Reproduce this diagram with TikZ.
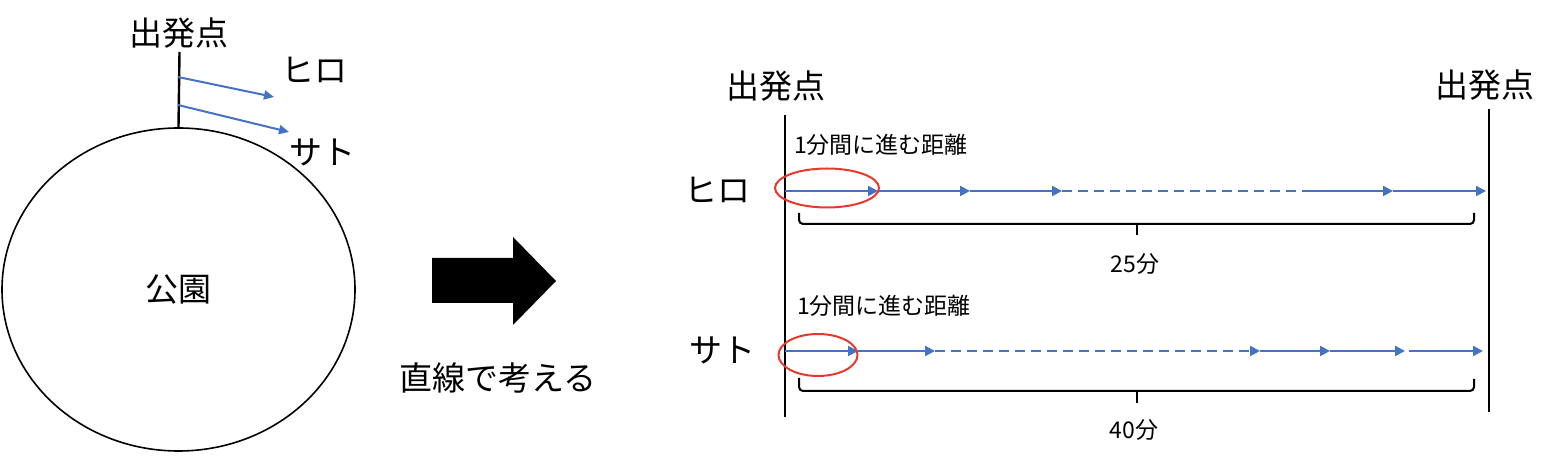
\documentclass[tikz,border=0pt]{standalone}
\usepackage{fontspec}
\setmainfont{Noto Sans CJK JP}
\usetikzlibrary{arrows.meta,shapes.geometric}

\definecolor{ao}{RGB}{68,114,196}
\definecolor{aka}{RGB}{232,56,44}

\begin{document}
\begin{tikzpicture}[x=0.5pt,y=-0.5pt,
        oomoji/.style={font=\fontsize{16.5}{18}\selectfont, inner sep=0pt},
        komoji/.style={font=\fontsize{11.5}{13}\selectfont, inner sep=0pt},
        sen/.style={line width=1.2pt},
        ya/.style={ao, line width=1pt, -{Triangle[length=5pt,width=5pt]}},
        yaten/.style={ao, line width=1pt, dash pattern=on 5pt off 3pt},
        maru/.style={draw=aka, ellipse, line width=1pt, inner sep=0pt},
        kakko/.style={line width=1pt, rounded corners=2pt}]
        \useasboundingbox (0,0) rectangle (1568,458);

        % 公園
        \node[draw, ellipse, line width=0.8pt, minimum width=176.5pt,
              minimum height=161.5pt, oomoji] (koen) at (178.5,289.5) {公園};
        \coordinate (ue) at (179.5,52);
        \draw[sen] (koen.north) -- (ue);
        \node[oomoji] (hatsu0) at (179,33) {出発点};

        % 二人の向き
        \coordinate (a1) at (178,77);
        \coordinate (b1) at (274,97);
        \coordinate (a2) at (178,105);
        \coordinate (b2) at (289,132);
        \draw[ya, -{Triangle[length=5pt,width=4.5pt]}] (a1) -- (b1);
        \draw[ya, -{Triangle[length=5pt,width=4.5pt]}] (a2) -- (b2);
        \node[oomoji] (hiro0) at (314,70) {ヒロ};
        \node[oomoji] (sato0) at (322,152) {サト};

        % 矢印
        \fill (432,258) -- (513,258) -- (513,237) -- (556,281)
              -- (513,325) -- (513,303) -- (432,303) -- cycle;
        \node[oomoji] (chokusen) at (498,378) {直線で考える};

        % 直線
        \node[oomoji] (hatsu1) at (776,86) {出発点};
        \node[oomoji] (hatsu2) at (1485,85) {出発点};
        \draw[sen] (785,115) -- (785,417);
        \draw[sen] (1489,109) -- (1489,412);

        % ヒロ
        \node[oomoji] (hiro) at (717,190) {ヒロ};
        \node[komoji] (kyori1) at (881,145) {1分間に進む距離};
        \foreach \n/\x in {0/785,1/878,2/970,3/1062,4/1302,5/1393,6/1486}
            \coordinate (h\n) at (\x,191);
        \foreach \a/\b in {0/1,1/2,2/3,4/5,5/6}
            \draw[ya] (h\a) -- (h\b);
        \draw[yaten] (h3) -- (h4);
        \node[maru, minimum width=52pt, minimum height=19.5pt] (maru1) at (827,188) {};

        \draw[kakko] (799,213) -- (799,224) -- (1474,224) -- (1474,213);
        \draw[line width=1pt] (1137,224) -- (1137,235);
        \node[komoji] (nijugo) at (1135,264) {25分};

        % サト
        \node[oomoji] (sato) at (722,350) {サト};
        \node[komoji] (kyori2) at (884,306) {1分間に進む距離};
        \foreach \n/\x in {0/785,1/858,2/935,3/1260,4/1330,5/1405,6/1409,7/1483}
            \coordinate (s\n) at (\x,351);
        \foreach \a/\b in {0/1,1/2,3/4,4/5,6/7}
            \draw[ya] (s\a) -- (s\b);
        \draw[yaten, -{Triangle[length=5pt,width=5pt]}] (s2) -- (s3);
        \node[maru, minimum width=39.5pt, minimum height=21pt] (maru2) at (818,355) {};

        \draw[kakko] (799,378) -- (799,391) -- (1474,391) -- (1474,379);
        \draw[line width=1pt] (1137,391) -- (1137,403);
        \node[komoji] (yonju) at (1134,430) {40分};

    \end{tikzpicture}
\end{document}
